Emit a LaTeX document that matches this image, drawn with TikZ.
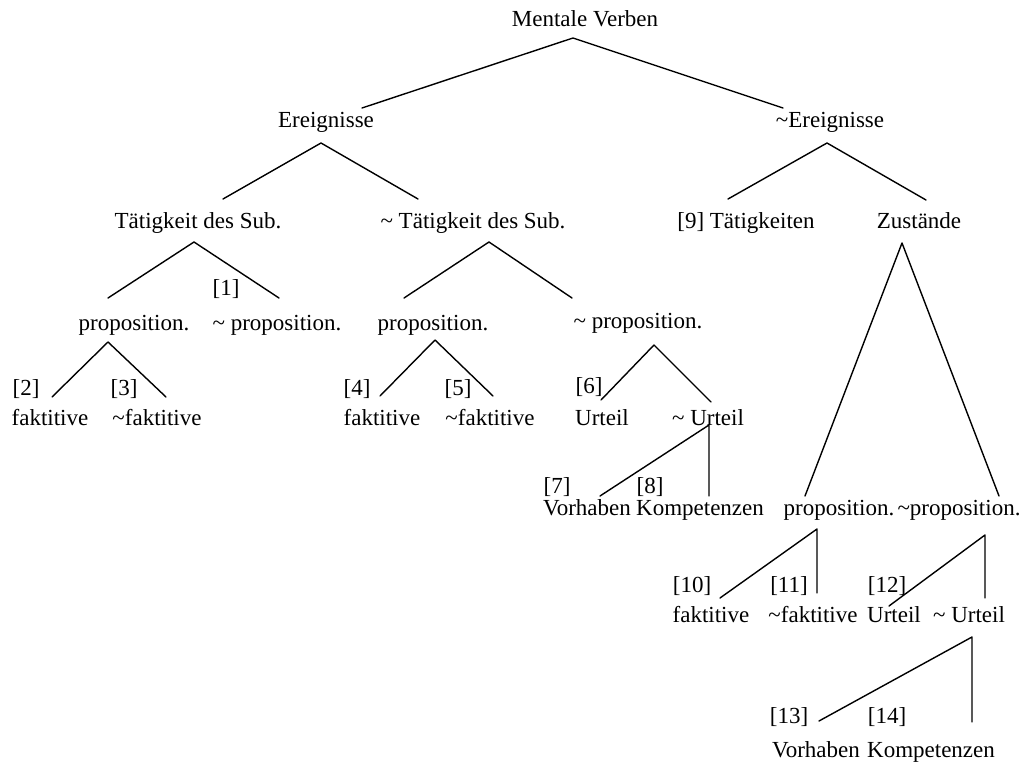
\documentclass[tikz,border=0pt]{standalone}
\usepackage{fontspec}
\setmainfont{Liberation Serif}
\begin{document}
\begin{tikzpicture}[x=1pt,y=-1pt,
  lbl/.style={anchor=base,inner sep=0pt,font=\fontsize{23}{27}\selectfont},
  branch/.style={line width=1.4pt,line cap=round,line join=round}]
\useasboundingbox (0,0) rectangle (1036,765);

% --- labels (centre x, baseline y) ---
\node[lbl] (mv)  at (585,27)  {Mentale Verben};
\node[lbl] (er)  at (326,128) {Ereignisse};
\node[lbl] (ner) at (830,128) {\textasciitilde Ereignisse};
\node[lbl] (ts)  at (198,228) {Tätigkeit des Sub.};
\node[lbl] (nts) at (473,228) {\textasciitilde{} Tätigkeit des Sub.};
\node[lbl] (t9)  at (746,228) {[9] Tätigkeiten};
\node[lbl] (zu)  at (919,228) {Zustände};

\node[lbl] (l1)  at (226,295) {[1]};
\node[lbl] (p1)  at (134,330) {proposition.};
\node[lbl] (np1) at (277,330) {\textasciitilde{} proposition.};
\node[lbl] (p2)  at (433,330) {proposition.};
\node[lbl] (np2) at (638,328) {\textasciitilde{} proposition.};

\node[lbl] (l2)  at (26,395)  {[2]};
\node[lbl] (l3)  at (124,395) {[3]};
\node[lbl] (l4)  at (357,395) {[4]};
\node[lbl] (l5)  at (458,395) {[5]};
\node[lbl] (l6)  at (589,393) {[6]};
\node[lbl] (f1)  at (50,425)  {faktitive};
\node[lbl] (nf1) at (157,425) {\textasciitilde faktitive};
\node[lbl] (f2)  at (382,425) {faktitive};
\node[lbl] (nf2) at (490,425) {\textasciitilde faktitive};
\node[lbl] (u1)  at (602,425) {Urteil};
\node[lbl] (nu1) at (708,425) {\textasciitilde{} Urteil};

\node[lbl] (l7)  at (557,493) {[7]};
\node[lbl] (l8)  at (650,493) {[8]};
\node[lbl] (vh1) at (587,515) {Vorhaben};
\node[lbl] (kp1) at (700,515) {Kompetenzen};
\node[lbl] (p3)  at (839,515) {proposition.};
\node[lbl] (np3) at (959,515) {\textasciitilde proposition.};

\node[lbl] (l10) at (692,592) {[10]};
\node[lbl] (l11) at (789,592) {[11]};
\node[lbl] (l12) at (887,592) {[12]};
\node[lbl] (f3)  at (711,622) {faktitive};
\node[lbl] (nf3) at (813,622) {\textasciitilde faktitive};
\node[lbl] (u2)  at (894,622) {Urteil};
\node[lbl] (nu2) at (969,622) {\textasciitilde{} Urteil};

\node[lbl] (l13) at (789,723) {[13]};
\node[lbl] (l14) at (887,723) {[14]};
\node[lbl] (vh2) at (816,757) {Vorhaben};
\node[lbl] (kp2) at (931,757) {Kompetenzen};

% --- branch points: apex under each parent, end above each child ---
\coordinate (mv-a)  at (573,38);
\coordinate (er-e)  at (362,108);
\coordinate (ner-e) at (783,108);

\coordinate (er-a)  at (321,143);
\coordinate (ts-e)  at (223,199);
\coordinate (nts-e) at (418,199);

\coordinate (ner-a) at (827,143);
\coordinate (t9-e)  at (728,199);
\coordinate (zu-e)  at (926,200);

\coordinate (ts-a)  at (194,242);
\coordinate (p1-e)  at (108,298);
\coordinate (np1-e) at (279,298);

\coordinate (nts-a) at (489,242);
\coordinate (p2-e)  at (404,298);
\coordinate (np2-e) at (572,298);

\coordinate (zu-a)  at (902,243);
\coordinate (p3-e)  at (805,496);
\coordinate (np3-e) at (999,496);

\coordinate (p1-a)  at (108,342);
\coordinate (f1-e)  at (52,397);
\coordinate (nf1-e) at (166,397);

\coordinate (p2-a)  at (435,340);
\coordinate (f2-e)  at (380,396);
\coordinate (nf2-e) at (493,396);

\coordinate (np2-a) at (654,345);
\coordinate (u1-e)  at (601,400);
\coordinate (nu1-e) at (711,402);

\coordinate (nu1-a) at (709,425);
\coordinate (vh1-e) at (600,496);
\coordinate (kp1-e) at (709,496);

\coordinate (p3-a)  at (817,529);
\coordinate (f3-e)  at (720,598);
\coordinate (nf3-e) at (817,593);

\coordinate (np3-a) at (985,535);
\coordinate (u2-e)  at (889,606);
\coordinate (nu2-e) at (985,598);

\coordinate (nu2-a) at (972,637);
\coordinate (vh2-e) at (819,721);
\coordinate (kp2-e) at (972,722);

% --- branches ---
\draw[branch] (er-e) -- (mv-a) -- (ner-e);
\draw[branch] (ts-e) -- (er-a) -- (nts-e);
\draw[branch] (t9-e) -- (ner-a) -- (zu-e);
\draw[branch] (p1-e) -- (ts-a) -- (np1-e);
\draw[branch] (p2-e) -- (nts-a) -- (np2-e);
\draw[branch] (p3-e) -- (zu-a) -- (np3-e);
\draw[branch] (f1-e) -- (p1-a) -- (nf1-e);
\draw[branch] (f2-e) -- (p2-a) -- (nf2-e);
\draw[branch] (u1-e) -- (np2-a) -- (nu1-e);
\draw[branch] (vh1-e) -- (nu1-a) -- (kp1-e);
\draw[branch] (f3-e) -- (p3-a) -- (nf3-e);
\draw[branch] (u2-e) -- (np3-a) -- (nu2-e);
\draw[branch] (vh2-e) -- (nu2-a) -- (kp2-e);
\end{tikzpicture}
\end{document}
